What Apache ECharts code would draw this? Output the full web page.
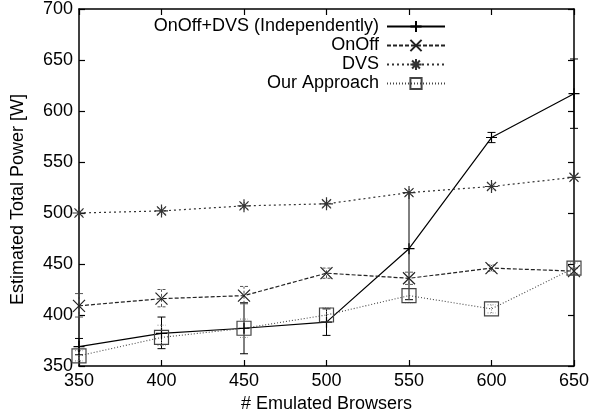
<!DOCTYPE html>
<html>
<head>
<meta charset="utf-8">
<script src="https://cdn.jsdelivr.net/npm/echarts@6/dist/echarts.min.js"></script>
<style>
  html, body { margin: 0; padding: 0; background: #fff; }
  #chart { width: 595px; height: 419px; }
</style>
</head>
<body>
<div id="chart"></div>
<script>
// x values
const browsers = [350, 400, 450, 500, 550, 600, 650];

// OnOff+DVS (Independently)
const onoffDvs = [369, 382, 387, 393, 465, 574, 617];
const onoffDvsLow = [361, 367, 362, 380, 415, 569, 583];
const onoffDvsHigh = [377, 398, 412, 406, 520, 579, 651];

// OnOff
const onoff = [409, 416, 419, 441, 436, 446, 443];
const onoffLow = [398, 408, 411, 436, 430, 443, 440];
const onoffHigh = [421, 425, 428, 446, 442, 449, 446];

// DVS
const dvs = [500, 502, 507, 509, 520, 526, 535];
const dvsLow = [497, 499, 504, 506, 517, 523, 532];
const dvsHigh = [503, 505, 510, 512, 523, 529, 538];

// Our Approach
const ours = [360, 378, 387, 400, 419, 406, 446];
const oursLow = [355, 370, 378, 393, 412, 402, 441];
const oursHigh = [365, 390, 396, 407, 426, 410, 451];

const xTicks = [350, 400, 450, 500, 550, 600, 650];
const yTicks = [350, 400, 450, 500, 550, 600, 650, 700];

const FONT = '"Liberation Sans", Arial, sans-serif';

const SYM_PLUS = 'path://M0,5L10,5M5,0L5,10';
const SYM_CROSS = 'path://M0,0L10,10M10,0L0,10';
const SYM_STAR = 'path://M0,5L10,5M5,0L5,10M1.5,1.5L8.5,8.5M8.5,1.5L1.5,8.5';

const chart = echarts.init(document.getElementById('chart'));

function pairs(ys) {
  return browsers.map((x, i) => [x, ys[i]]);
}

// vertical error bars with caps
function errorSeries(name, lows, highs, color, type) {
  return {
    name: name,
    type: 'custom',
    silent: true,
    z: 1,
    data: browsers.map((x, i) => [x, lows[i], highs[i]]),
    encode: { x: 0, y: [1, 2] },
    renderItem: function (params, api) {
      const lo = api.coord([api.value(0), api.value(1)]);
      const hi = api.coord([api.value(0), api.value(2)]);
      const w = 4;
      const style = { stroke: color, lineWidth: 1, lineDash: type };
      return {
        type: 'group',
        children: [
          { type: 'line', shape: { x1: lo[0], y1: lo[1], x2: hi[0], y2: hi[1] }, style: style },
          { type: 'line', shape: { x1: lo[0] - w, y1: lo[1], x2: lo[0] + w, y2: lo[1] }, style: style },
          { type: 'line', shape: { x1: hi[0] - w, y1: hi[1], x2: hi[0] + w, y2: hi[1] }, style: style }
        ]
      };
    }
  };
}

function lineSeries(name, ys, color, dash, symbol, size, width) {
  return {
    name: name,
    type: 'line',
    data: pairs(ys),
    symbol: symbol,
    symbolSize: size,
    showAllSymbol: true,
    z: 3,
    lineStyle: { color: color, width: width, type: dash },
    itemStyle: { color: 'rgba(0,0,0,0)', borderColor: color, borderWidth: 1.2 },
    emphasis: { disabled: true }
  };
}

const axisLine = { show: true, lineStyle: { color: '#000', width: 1.5 } };
const axisTick = { show: true, inside: true, length: 6, lineStyle: { color: '#000', width: 1.2 } };

const option = {
  animation: false,
  backgroundColor: '#fff',
  textStyle: { fontFamily: FONT },
  grid: { left: 79, right: 21, top: 9, bottom: 53 },
  legend: {
    data: ['OnOff+DVS (Independently)', 'OnOff', 'DVS', 'Our Approach'],
    orient: 'vertical',
    align: 'right',
    right: 144,
    top: 12,
    itemWidth: 58,
    itemHeight: 14,
    itemGap: 0,
    selectedMode: false,
    textStyle: { fontFamily: FONT, fontSize: 18, lineHeight: 19, color: '#000', padding: [0, 3, 0, 0] }
  },
  xAxis: [
    {
      type: 'value',
      min: 350, max: 650, interval: 50,
      name: '# Emulated Browsers',
      nameLocation: 'middle',
      nameGap: 29,
      nameTextStyle: { fontFamily: FONT, fontSize: 18, color: '#000' },
      axisLine: axisLine,
      axisTick: axisTick,
      axisLabel: { fontFamily: FONT, fontSize: 18, color: '#000', margin: 6,
        formatter: function (v) { return xTicks.indexOf(v) >= 0 ? String(v) : ''; } },
      splitLine: { show: false }
    },
    {
      type: 'value', position: 'top',
      min: 350, max: 650, interval: 50,
      axisLine: axisLine,
      axisTick: axisTick,
      axisLabel: { show: false },
      splitLine: { show: false }
    }
  ],
  yAxis: [
    {
      type: 'value',
      min: 350, max: 700, interval: 50,
      name: 'Estimated Total Power [W]',
      nameLocation: 'middle',
      nameGap: 52,
      nameTextStyle: { fontFamily: FONT, fontSize: 18, color: '#000', padding: [0, 24, 0, 0] },
      axisLine: axisLine,
      axisTick: axisTick,
      axisLabel: { fontFamily: FONT, fontSize: 18, color: '#000', margin: 6,
        formatter: function (v) { return yTicks.indexOf(v) >= 0 ? String(v) : ''; } },
      splitLine: { show: false }
    },
    {
      type: 'value', position: 'right',
      min: 350, max: 700, interval: 50,
      axisLine: axisLine,
      axisTick: axisTick,
      axisLabel: { show: false },
      splitLine: { show: false }
    }
  ],
  series: [
    errorSeries('err1', onoffDvsLow, onoffDvsHigh, '#000', 'solid'),
    errorSeries('err2', onoffLow, onoffHigh, '#555', [3, 2]),
    errorSeries('err3', dvsLow, dvsHigh, '#666', [1.5, 2]),
    errorSeries('err4', oursLow, oursHigh, '#888', [1, 1.5]),
    lineSeries('OnOff+DVS (Independently)', onoffDvs, '#000', 'solid', SYM_PLUS, 11, 1.2),
    lineSeries('OnOff', onoff, '#222', [4, 2], SYM_CROSS, 12, 1.2),
    lineSeries('DVS', dvs, '#333', [2, 3], SYM_STAR, 13, 1.2),
    lineSeries('Our Approach', ours, '#444', [1, 2], 'rect', 14, 1.1)
  ]
};

chart.setOption(option);
</script>
</body>
</html>
